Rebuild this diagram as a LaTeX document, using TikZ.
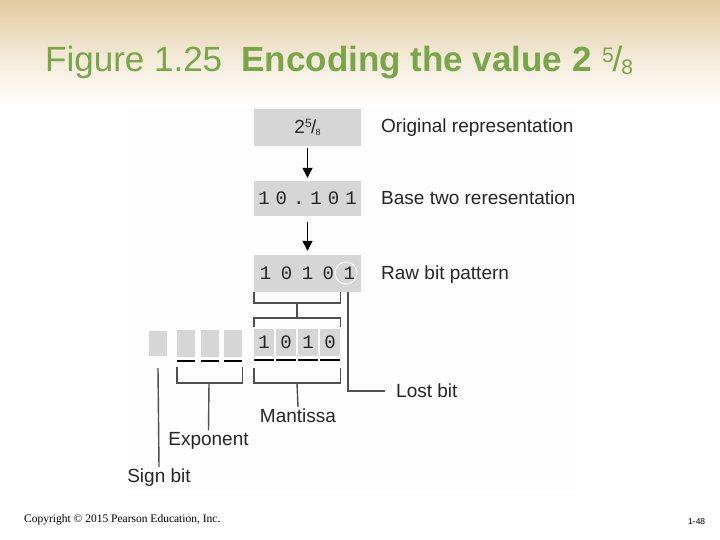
\documentclass[tikz,border=0pt]{standalone}
\usepackage{fontspec}
\setmainfont{Liberation Sans}
\newfontfamily\bitfont{Liberation Mono}
\newfontfamily\footfont{Liberation Serif}
\usetikzlibrary{arrows.meta}
\definecolor{titlegreen}{RGB}{120,166,72}
\definecolor{bandtan}{RGB}{226,202,158}
\definecolor{boxgray}{RGB}{214,214,214}
\definecolor{linegray}{RGB}{80,80,80}
\newcommand\basegap{\hspace{6pt}}
\newcommand\rawgap{\hspace{9.5pt}}

\begin{document}
\begin{tikzpicture}[x=1pt,y=-1pt,
  greybox/.style={fill=boxgray, inner sep=0pt, minimum width=107pt, text=black!85},
  bitbox/.style={fill=boxgray, inner sep=0pt, minimum width=20pt, minimum height=27pt, text=black!85},
  brk/.style={draw=linegray, line width=1.4pt},
  lbl/.style={font=\fontsize{19}{22}\selectfont, text=black!85, inner sep=2pt}]
\useasboundingbox (0,0) rectangle (720,540);
\shade[top color=bandtan, bottom color=white, middle color=bandtan!45] (0,0) rectangle (720,105);
\fill[black!0.6] (127,107) rectangle (577,490);
% title
\node[anchor=base west, inner sep=0pt, text=titlegreen, font=\fontsize{35}{40}\selectfont] (title) at (45,72)
  {Figure 1.25\hspace{0.55em}\textbf{Encoding the value 2}\hspace{0.3em}\raisebox{9pt}{\fontsize{21}{21}\selectfont 5}\kern-1pt/\kern-1pt\raisebox{-3pt}{\fontsize{21}{21}\selectfont 8}};
% three stages
\node[greybox, minimum height=37pt, font=\fontsize{19}{19}\selectfont] (orig) at (307.5,127.5)
  {2\raisebox{6pt}{\fontsize{12}{12}\selectfont 5}\kern-0.5pt/\kern-1pt\raisebox{-2pt}{\fontsize{9}{9}\selectfont 8}};
\node[greybox, minimum height=35pt, font=\bitfont\fontsize{19}{19}\selectfont] (base2) at (307.5,198.5)
  {1\basegap 0\basegap .\basegap 1\basegap 0\basegap 1};
\node[greybox, minimum height=37pt, font=\bitfont\fontsize{19}{19}\selectfont] (raw) at (307.5,273.5)
  {1\rawgap 0\rawgap 1\rawgap 0\rawgap 1\hspace{6pt}};
\node[circle, draw=white, line width=1pt, minimum size=22pt, inner sep=0pt] (lostring) at (346,273) {};
\node[lbl, anchor=west] (origlbl) at (379,128) {Original representation};
\node[lbl, anchor=west] (base2lbl) at (379,198) {Base two reresentation};
\node[lbl, anchor=west] (rawlbl) at (379,275) {Raw bit pattern};
\draw[-{Triangle[length=10pt,width=10pt]}, line width=1.3pt] ([yshift=-2pt]orig.south) -- ([yshift=3pt]base2.north);
\draw[-{Triangle[length=10pt,width=10pt]}, line width=1.3pt] ([yshift=-6pt]base2.south) -- ([yshift=4pt]raw.north);
% bit cells
\node[bitbox, minimum width=18pt, minimum height=25pt] (sgn) at (158,343.5) {};
\foreach \x [count=\i] in {186,210,233}
  \node[bitbox, minimum width=18pt] (e\i) at (\x,343) {};
\foreach \x/\b [count=\i] in {264/1,286/0,308/1,330/0}
  \node[bitbox, font=\bitfont\fontsize{19}{19}\selectfont] (m\i) at (\x,342.5) {\b};
\foreach \n in {e1,e2,e3,m1,m2,m3,m4}
  \draw[line width=2pt] ([yshift=-4pt]\n.south west) -- ([yshift=-4pt]\n.south east);
% brackets
\coordinate (rawfork) at (297,303);
\coordinate (mantfork) at (297,318);
\draw[brk] (raw.south west) |- (rawfork) -| (m4.east |- raw.south);
\draw[brk] (rawfork) -- (mantfork);
\draw[brk] ([yshift=2pt]m1.north west) |- (mantfork) -| ([yshift=2pt]m4.north east);
\node[lbl] (explbl) at (208.5,441) {Exponent};
\node[lbl] (mantlbl) at (298,416) {Mantissa};
\node[lbl] (signlbl) at (159,478) {Sign bit};
\node[lbl, anchor=west] (lostlbl) at (394,391) {Lost bit};
\coordinate (expfork) at (209,383);
\draw[brk] ([yshift=-10pt]e1.south west) |- (expfork) -| ([yshift=-10pt]e3.south east);
\draw[brk] (expfork) -- (explbl.north);
\coordinate (mantbase) at (297,383);
\draw[brk] ([yshift=-12pt]m1.south west) |- (mantbase) -| ([yshift=-12pt]m4.south east);
\draw[brk] (mantbase) -- (mantlbl.north);
\draw[brk] ([yshift=-12pt]sgn.south) -- (signlbl.north);
\draw[brk, shorten >=9pt] ([xshift=2pt]lostring.center |- raw.south) |- (lostlbl.west);
% footer
\node[anchor=base west, inner sep=0pt, font=\footfont\fontsize{11.5}{13}\selectfont] (copy) at (24,522)
  {Copyright \textcopyright{} 2015 Pearson Education, Inc.};
\node[anchor=base west, inner sep=0pt, font=\fontsize{8.5}{10}\selectfont] (pagenum) at (688,524) {1-48};
\end{tikzpicture}
\end{document}
